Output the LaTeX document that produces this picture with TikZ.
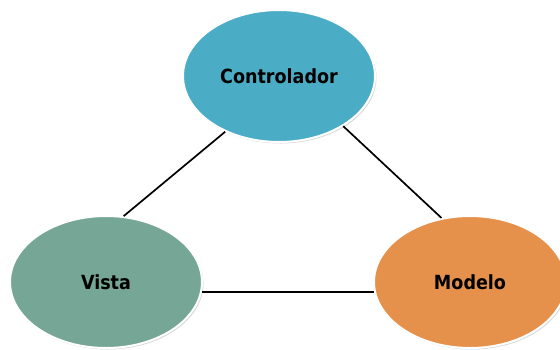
\documentclass[tikz,border=0pt]{standalone}
\usepackage{fontspec}
\setmainfont{DejaVu Sans Condensed}
\usetikzlibrary{shapes.geometric,shadows}
\definecolor{ctrlblue}{RGB}{75,172,198}
\definecolor{vistagreen}{RGB}{118,167,150}
\definecolor{modelorange}{RGB}{230,145,75}
\tikzset{
  mvcnode/.style={ellipse, draw=white, line width=2pt, minimum width=192pt, minimum height=132pt,
    inner sep=0pt, font=\fontsize{19.5}{22}\selectfont\bfseries,
    drop shadow={shadow xshift=1.5pt, shadow yshift=-1.5pt, fill=black!25, opacity=0.6}},
  link/.style={draw=black, line width=1.7pt}
}
\begin{document}
\begin{tikzpicture}[x=1pt,y=-1pt]
  \useasboundingbox (0,0) rectangle (560,349);
  \begin{scope}
    \clip (0,0) rectangle (560,349);
    \node[mvcnode, fill=ctrlblue] (ctrl) at (279,76) {Controlador};
    \node[mvcnode, fill=vistagreen] (vista) at (106,282) {Vista};
    \node[mvcnode, fill=modelorange] (modelo) at (470,282) {Modelo};
    \draw[link] (ctrl.226) -- (vista.75);
    \draw[link] (ctrl.-38) -- (modelo.114);
    \draw[link] (vista.-6) -- (modelo.186);
  \end{scope}
\end{tikzpicture}
\end{document}
